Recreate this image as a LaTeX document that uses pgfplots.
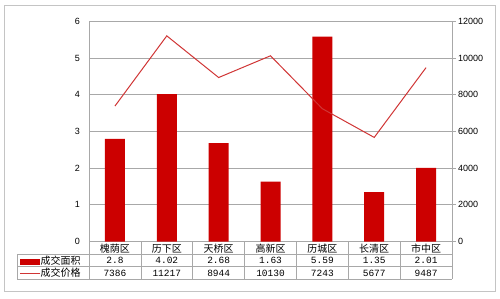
\documentclass[border=0pt]{standalone}
\usepackage{fontspec}
\setmainfont{Liberation Sans}
\newfontfamily\cjk{Noto Sans CJK SC}
\newfontfamily\monof{Liberation Mono}
\usepackage{pgfplots}
\pgfplotsset{compat=1.18}
\definecolor{barred}{HTML}{CC0000}
\definecolor{linered}{HTML}{D03535}
\definecolor{gridg}{HTML}{A8A8A8}
\definecolor{boxg}{HTML}{C4C4C4}
\begin{document}
\begin{tikzpicture}[x=1pt,y=1pt]
\useasboundingbox (0,0) rectangle (500,298);
\draw[boxg, line width=0.9pt] (4.3,7) rectangle (495.7,293);

\begin{axis}[at={(89pt,56.5pt)}, anchor=south west, scale only axis,
  width=363pt, height=220pt,
  xmin=-0.5, xmax=6.5, ymin=0, ymax=6, ytick={0,...,6},
  xtick={0,...,6},
  xticklabels={槐荫区,历下区,天桥区,高新区,历城区,长清区,市中区},
  xticklabel style={font=\cjk\fontsize{10}{12}\selectfont, anchor=center, inner sep=0pt, yshift=-7pt},
  yticklabel style={font=\fontsize{9}{10}\selectfont, inner sep=0pt, xshift=-9pt},
  /pgf/number format/assume math mode=true,
  major tick length=0pt,
  axis x line*=bottom, axis y line*=left,
  axis line style={gridg, line width=0.7pt},
  ymajorgrids, grid style={gridg, line width=0.7pt},
  ybar, bar width=20pt, clip=false,
]
\addplot[fill=barred, draw=none] coordinates {(0,2.8) (1,4.02) (2,2.68) (3,1.63) (4,5.59) (5,1.35) (6,2.01)};
\end{axis}

\begin{axis}[at={(89pt,56.5pt)}, anchor=south west, scale only axis,
  width=363pt, height=220pt,
  xmin=-0.5, xmax=6.5, ymin=0, ymax=12000, ytick={0,2000,...,12000},
  axis x line=none, xtick=\empty, axis y line*=right,
  axis line style={gridg, line width=0.7pt},
  tick align=outside, major tick length=4pt, tick style={gridg, line width=0.7pt},
  yticklabel style={font=\fontsize{9}{10}\selectfont, inner sep=0pt, xshift=2pt},
  scaled y ticks=false,
  /pgf/number format/1000 sep={},
  /pgf/number format/assume math mode=true,
]
\addplot[linered, line width=1pt, mark=none] coordinates {(0,7386) (1,11217) (2,8944) (3,10130) (4,7243) (5,5677) (6,9487)};
\end{axis}

% data table (pixel coordinates, y flipped)
\begin{scope}[gridg, line width=0.7pt]
  \draw (17,298-254) -- (451.7,298-254);
  \draw (17,298-266.7) -- (451.7,298-266.7);
  \draw (17,298-279) -- (451.7,298-279);
  \draw (17,298-254) -- (17,298-279);
  \foreach \k in {0,...,7} {
    \draw (89+51.86*\k,298-241.5) -- (89+51.86*\k,298-279);
  }
\end{scope}
\fill[barred] (20,298-264.5) rectangle (40,298-258.5);
\draw[linered, line width=1pt] (20,298-273.5) -- (40,298-273.5);
\node[anchor=west, inner sep=0pt, font=\cjk\fontsize{10}{12}\selectfont] at (40.5,298-260.5) {成交面积};
\node[anchor=west, inner sep=0pt, font=\cjk\fontsize{10}{12}\selectfont] at (40.5,298-273) {成交价格};
\foreach \v [count=\i from 0] in {2.8,4.02,2.68,1.63,5.59,1.35,2.01} {
  \node[inner sep=0pt, font=\monof\fontsize{9.5}{11}\selectfont] at (89+51.86*\i+25.93,298-260.5) {\v};
}
\foreach \v [count=\i from 0] in {7386,11217,8944,10130,7243,5677,9487} {
  \node[inner sep=0pt, font=\monof\fontsize{9.5}{11}\selectfont] at (89+51.86*\i+25.93,298-273) {\v};
}
\end{tikzpicture}
\end{document}
